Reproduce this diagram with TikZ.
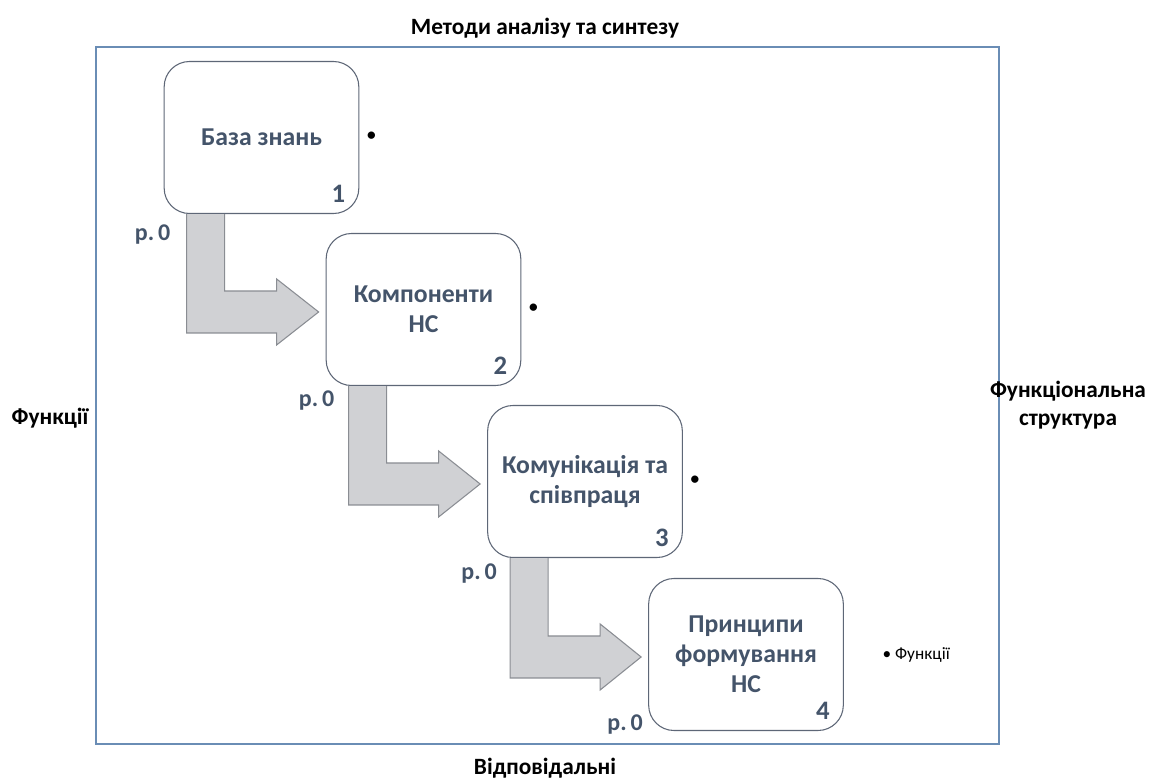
\documentclass[tikz,border=0pt]{standalone}
\usepackage{fontspec}
\setmainfont{Carlito}
\usepackage{tikz}
\usetikzlibrary{calc,positioning,shapes}

\definecolor{txtslate}{HTML}{44546A}
\definecolor{framecol}{HTML}{6A8DB5}
\definecolor{boxline}{HTML}{5E6777}
\definecolor{arrowfill}{HTML}{D0D1D4}
\definecolor{arrowline}{HTML}{8A8D93}

\tikzset{
	stagebox/.style={draw=boxline, line width=0.8pt, fill=white, rounded corners=19pt,
		minimum width=146pt, minimum height=114pt, align=center, text=txtslate,
		font=\fontsize{19.3}{22.5}\selectfont\bfseries},
	numlab/.style={text=txtslate, font=\fontsize{20}{22}\selectfont\bfseries},
	reflab/.style={text=txtslate, font=\fontsize{18}{20}\selectfont\bfseries},
	sidelab/.style={text=black, align=center, font=\fontsize{17.5}{21}\selectfont\bfseries},
	dotlab/.style={text=black, font=\fontsize{13}{15}\selectfont},
	blockarrow/.style={fill=arrowfill, draw=arrowline, line width=0.8pt}
}

\begin{document}
\begin{tikzpicture}[x=0.75pt, y=-0.75pt]
			\useasboundingbox (0,0) rectangle (1163,778);

			% frame and outer labels
			\draw[framecol, line width=1pt] (96,47) rectangle (999,744);
			\node[sidelab] (top) at (545,28){Методи аналізу та синтезу};
			\node[sidelab] (bottom) at (545,768){Відповідальні};
			\node[sidelab] (left) at (50,418){Функції};
			\node[sidelab] (right) at (1068,405){Функціональна\\структура};

			% stages
			\node[stagebox] (b1) at (261.5,137.5){База знань};
			\node[stagebox] (b2) at (423.5,309.5){Компоненти\\НС};
			\node[stagebox] (b3) at (585,481.5){Комунікація та\\співпраця};
			\node[stagebox] (b4) at (746,654.5){Принципи\\формування\\НС};

				\node[numlab] (n1) at ($(b1.south east)+(-21,-20)$){1};
				\node[numlab] (n2) at ($(b2.south east)+(-21,-20)$){2};
				\node[numlab] (n3) at ($(b3.south east)+(-21,-20)$){3};
				\node[numlab] (n4) at ($(b4.south east)+(-21,-20)$){4};

				\node[dotlab] (d1) at ($(b1.east)+(12,-1)$){\bfseries •};
				\node[dotlab] (d2) at ($(b2.east)+(12,-1)$){\bfseries •};
				\node[dotlab] (d3) at ($(b3.east)+(12,-1)$){\bfseries •};
				\node[dotlab, anchor=west] (d4) at ($(b4.east)+(34,0)$){• Функції};

				\node[reflab] (r1) at ($(b1.south west)+(-11,20)$){р.\,0};
				\node[reflab] (r2) at ($(b2.south west)+(-9,14)$){р.\,0};
				\node[reflab] (r3) at ($(b3.south west)+(-8,15)$){р.\,0};
				\node[reflab] (r4) at ($(b4.south west)+(-23,-7)$){р.\,0};

			% bent arrows
			\draw[blockarrow] ($(b1.south west)+(23,0)$) -- ($(b1.south west|-b2.north west)+(23,100)$)
				-- ($(b1.south west|-b2.north west)+(113,100)$) -- ($(b1.south west|-b2.north west)+(113,112)$)
				-- ($(b2.north west)+(-7,79)$)
				-- ($(b1.south west|-b2.north west)+(113,46)$) -- ($(b1.south west|-b2.north west)+(113,58)$)
				-- ($(b1.south west|-b2.north west)+(61,58)$) -- ($(b1.south west)+(61,0)$);
			\draw[blockarrow] ($(b2.south west)+(23,0)$) -- ($(b2.south west|-b3.north west)+(23,100)$)
				-- ($(b2.south west|-b3.north west)+(113,100)$) -- ($(b2.south west|-b3.north west)+(113,112)$)
				-- ($(b3.north west)+(-7,79)$)
				-- ($(b2.south west|-b3.north west)+(113,46)$) -- ($(b2.south west|-b3.north west)+(113,58)$)
				-- ($(b2.south west|-b3.north west)+(61,58)$) -- ($(b2.south west)+(61,0)$);
			\draw[blockarrow] ($(b3.south west)+(23,0)$) -- ($(b3.south west|-b4.north west)+(23,100)$)
				-- ($(b3.south west|-b4.north west)+(113,100)$) -- ($(b3.south west|-b4.north west)+(113,112)$)
				-- ($(b4.north west)+(-7,79)$)
				-- ($(b3.south west|-b4.north west)+(113,46)$) -- ($(b3.south west|-b4.north west)+(113,58)$)
				-- ($(b3.south west|-b4.north west)+(61,58)$) -- ($(b3.south west)+(61,0)$);

		\end{tikzpicture}
\end{document}
